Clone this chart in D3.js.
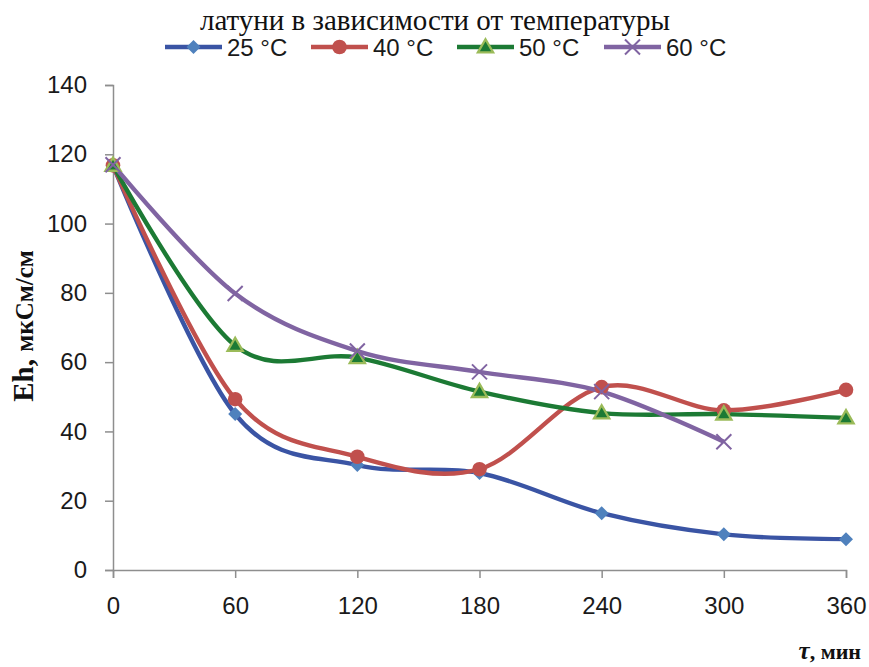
<!DOCTYPE html>
<html><head><meta charset="utf-8">
<script src="https://cdn.jsdelivr.net/npm/d3@7"></script>
<style>body{margin:0;background:#fff}svg{display:block}</style>
</head><body>
<script>
const times = [0, 60, 120, 180, 240, 300, 360];
const seriesNames = ["25 °C", "40 °C", "50 °C", "60 °C"];
const s25 = [116.8, 45.0, 30.3, 28.0, 16.4, 10.3, 8.9];
const s40 = [116.8, 49.3, 32.7, 29.1, 52.8, 46.1, 52.0];
const s50 = [116.8, 64.8, 61.3, 51.5, 45.3, 45.0, 43.9];
const s60 = [117.0, 79.8, 63.2, 57.2, 51.5, 37.0];
const yTicks = [0, 20, 40, 60, 80, 100, 120, 140];
const titleText = "латуни в зависимости от температуры";

const W = 869, H = 667;
const svg = d3.select("body").append("svg").attr("width", W).attr("height", H);
const x = d3.scaleLinear().domain([0, 360]).range([113, 846]);
const y = d3.scaleLinear().domain([0, 140]).range([570, 85]);

const styles = [
  {line: "#3A54A4", fill: "#4F81BD", stroke: "#4F81BD", shape: "diamond"},
  {line: "#C0504D", fill: "#C0504D", stroke: "#C0504D", shape: "circle"},
  {line: "#1C7A34", fill: "#1C7A34", stroke: "#9BBB59", shape: "triangle"},
  {line: "#8064A2", fill: "none", stroke: "#8064A2", shape: "x"}
];
const allSeries = [s25, s40, s50, s60];
const sansFont = "'Liberation Sans', Arial, sans-serif";

// axes
const axisColor = "#8E8E8E";
const yAxis = svg.append("g").attr("transform", `translate(${x(0)},0)`)
  .call(d3.axisLeft(y).tickValues(yTicks).tickSize(8).tickPadding(18));
const xAxis = svg.append("g").attr("transform", `translate(0,${y(0)})`)
  .call(d3.axisBottom(x).tickValues(times).tickSize(8).tickPadding(19));
[yAxis, xAxis].forEach(g => {
  g.select(".domain").attr("stroke", axisColor).attr("stroke-width", 1.5);
  g.selectAll(".tick line").attr("stroke", axisColor).attr("stroke-width", 1.5);
  g.selectAll(".tick text").attr("fill", "#1a1a1a")
    .style("font-family", sansFont).style("font-size", "24px");
});

// lines
const line = d3.line().x((d, i) => x(times[i])).y(d => y(d)).curve(d3.curveCardinal.tension(0));
allSeries.forEach((s, k) => {
  svg.append("path").attr("d", line(s)).attr("fill", "none")
    .attr("stroke", styles[k].line).attr("stroke-width", 4.4).attr("stroke-linejoin", "round");
});

function marker(g, shape, st, cx, cy) {
  if (shape === "diamond") {
    const r = 7;
    g.append("path").attr("d", `M${cx},${cy - r}L${cx + r},${cy}L${cx},${cy + r}L${cx - r},${cy}Z`)
      .attr("fill", st.fill);
  } else if (shape === "circle") {
    g.append("circle").attr("cx", cx).attr("cy", cy).attr("r", 7.3).attr("fill", st.fill);
  } else if (shape === "triangle") {
    g.append("path").attr("d", d3.symbol(d3.symbolTriangle, 100)())
      .attr("transform", `translate(${cx},${cy + 1})`).attr("fill", st.fill)
      .attr("stroke", st.stroke).attr("stroke-width", 2.3);
  } else {
    const r = 7.5;
    g.append("path").attr("d", `M${cx - r},${cy - r}L${cx + r},${cy + r}M${cx - r},${cy + r}L${cx + r},${cy - r}`)
      .attr("stroke", st.stroke).attr("stroke-width", 2).attr("fill", "none");
  }
}
allSeries.forEach((s, k) => {
  const g = svg.append("g");
  s.forEach((v, i) => marker(g, styles[k].shape, styles[k], x(times[i]), y(v)));
});

// title
svg.append("text").attr("x", 435).attr("y", 30).attr("text-anchor", "middle")
  .style("font-family", "'Liberation Serif', serif").style("font-size", "29px").attr("fill", "#111")
  .text(titleText);

// legend
const legX = [165, 311, 457, 604];
seriesNames.forEach((n, k) => {
  const g = svg.append("g");
  const ly = 47;
  g.append("line").attr("x1", legX[k]).attr("x2", legX[k] + 57).attr("y1", ly).attr("y2", ly)
    .attr("stroke", styles[k].line).attr("stroke-width", 4.4);
  marker(g, styles[k].shape, styles[k], legX[k] + 28.5, ly);
  g.append("text").attr("x", legX[k] + 62).attr("y", ly + 8.5)
    .style("font-family", sansFont).style("font-size", "24px").attr("fill", "#1a1a1a").text(n);
});

// axis titles
const yl = svg.append("text").attr("transform", "translate(33,326) rotate(-90)")
  .attr("text-anchor", "middle").style("font-family", "'Liberation Serif', serif")
  .style("font-weight", "bold").attr("fill", "#111");
yl.append("tspan").style("font-size", "29px").text("Eh, ");
yl.append("tspan").style("font-size", "25px").text("мкСм/см");

const xl = svg.append("text").attr("x", 861).attr("y", 659).attr("text-anchor", "end")
  .style("font-family", "'Liberation Serif', serif").style("font-weight", "bold").attr("fill", "#111");
xl.append("tspan").style("font-size", "25px").style("font-style", "italic").text("τ");
xl.append("tspan").style("font-size", "22px").text(", мин");
</script>
</body></html>
